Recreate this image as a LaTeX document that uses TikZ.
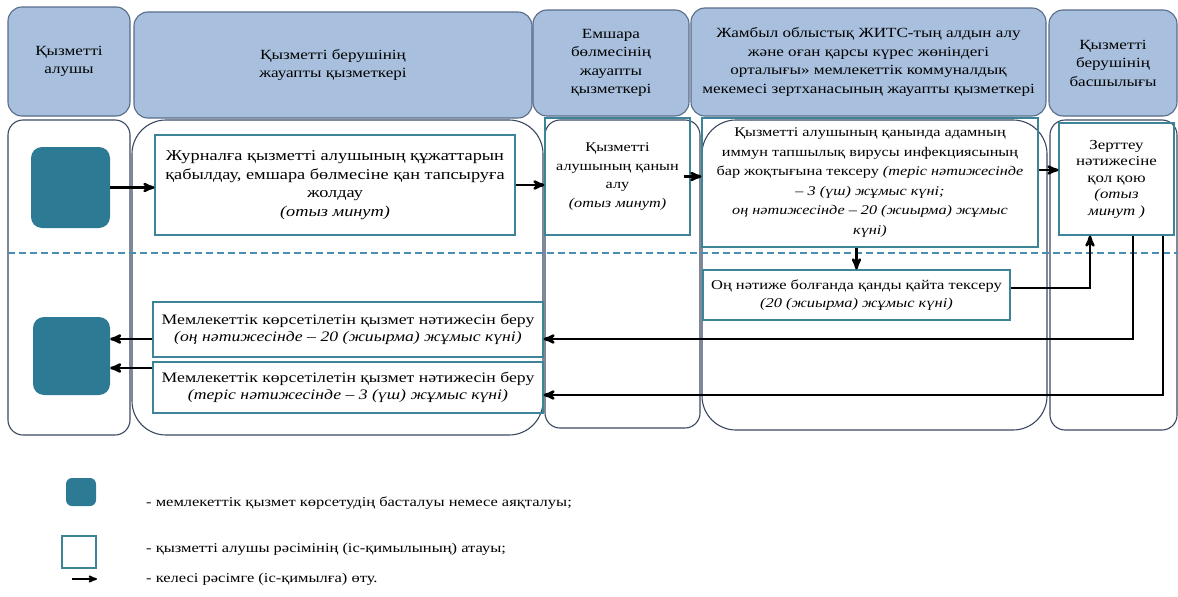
\documentclass[tikz,border=0pt]{standalone}
\usepackage{fontspec}
\setmainfont{Liberation Serif}[FakeStretch=1.22]
\usetikzlibrary{arrows,positioning}

\definecolor{hdrfill}{RGB}{168,192,222}
\definecolor{hdrline}{RGB}{88,108,138}
\definecolor{laneline}{RGB}{58,72,98}
\definecolor{procline}{RGB}{62,132,152}
\definecolor{termfill}{RGB}{44,122,148}
\definecolor{dashline}{RGB}{72,142,180}

\begin{document}
\begin{tikzpicture}[x=1pt,y=-1pt,>=stealth',
    every node/.style={font=\fontsize{15}{18.5}\selectfont,align=center,inner sep=0pt},
    hdr/.style={draw=hdrline,fill=hdrfill,rounded corners=14pt,line width=1.1pt,font=\fontsize{14}{18.5}\selectfont},
    lane/.style={draw=laneline,rounded corners=15pt,line width=1.1pt},
    proc/.style={draw=procline,line width=1.1pt},
    term/.style={fill=termfill,rounded corners=11pt}]
    \useasboundingbox (0,0) rectangle (1178,597);

    % headers
    \node[hdr,minimum width=122,minimum height=109] (H1) at (69,61.5) {Қызметті\\алушы};
    \node[hdr,minimum width=398,minimum height=106] (H2) at (333,65) {Қызметті берушінің\\жауапты қызметкері};
    \node[hdr,minimum width=156,minimum height=106] (H3) at (611,63) {Емшара\\бөлмесінің\\жауапты\\қызметкері};
    \node[hdr,minimum width=355,minimum height=108] (H4) at (868.5,62) {Жамбыл облыстық ЖИТС-тың алдын алу\\және оған қарсы күрес жөніндегі\\орталығы» мемлекеттік коммуналдық\\мекемесі зертханасының жауапты қызметкері};
    \node[hdr,minimum width=128,minimum height=106] (H5) at (1113,63) {Қызметті\\берушінің\\басшылығы};

    % lanes
    \node[lane,minimum width=122,minimum height=315] (L1) at (69,277.5) {};
    \node[lane,rounded corners=34pt,minimum width=411,minimum height=315] (L2) at (337.5,277.5) {};
    \node[lane,minimum width=155,minimum height=308] (L3) at (622.5,274) {};
    \node[lane,rounded corners=34pt,minimum width=345,minimum height=310] (L4) at (874.5,275) {};
    \node[lane,minimum width=127,minimum height=310] (L5) at (1113.5,275) {};
    \coordinate (D1) at (8,253);
    \coordinate (D2) at (1178,253);
    \draw[dashline,dash pattern=on 7pt off 4pt,line width=1.4pt] (D1) -- (D2);

    % steps
    \node[term,minimum width=79,minimum height=81] (S1) at (70.5,187.5) {};
    \node[term,minimum width=77,minimum height=78] (S2) at (71.5,356) {};
    \node[proc,minimum width=360,minimum height=100] (B1) at (335,185) {Журналға қызметті алушының құжаттарын\\қабылдау, емшара бөлмесіне қан тапсыруға\\жолдау\\\textit{(отыз минут)}};
    \node[proc,minimum width=145,minimum height=117,font=\fontsize{13.3}{18.5}\selectfont] (B2) at (617.5,176.5) {Қызметті\\алушының қанын\\алу\\\textit{(отыз минут)}};
    \node[proc,minimum width=336,minimum height=129,font=\fontsize{13.3}{19.5}\selectfont] (B3) at (870,182.5) {Қызметті алушының қанында адамның\\иммун тапшылық вирусы инфекциясының\\бар жоқтығына тексеру \textit{(теріс нәтижесінде}\\\textit{– 3 (үш) жұмыс күні;}\\\textit{оң нәтижесінде – 20 (жиырма) жұмыс}\\\textit{күні)}};
    \node[proc,minimum width=115,minimum height=112,font=\fontsize{13.8}{16.5}\selectfont] (B4) at (1116.5,179) {Зерттеу\\нәтижесіне\\қол қою\\\textit{(отыз}\\\textit{минут )}};
    \node[proc,minimum width=307,minimum height=50,font=\fontsize{13.5}{18.5}\selectfont] (B5) at (856.5,295) {Оң нәтиже болғанда қанды қайта тексеру\\\textit{(20 (жиырма) жұмыс күні)}};
    \node[proc,minimum width=390,minimum height=55,font=\fontsize{14.5}{17}\selectfont] (B6) at (348,329.5) {Мемлекеттік көрсетілетін қызмет нәтижесін беру\\\textit{(оң нәтижесінде – 20 (жиырма) жұмыс күні)}};
    \node[proc,minimum width=390,minimum height=51,font=\fontsize{14.5}{17}\selectfont] (B7) at (348,387.5) {Мемлекеттік көрсетілетін қызмет нәтижесін беру\\\textit{(теріс нәтижесінде – 3 (үш) жұмыс күні)}};

    \tikzset{flow/.style={->,line width=2.6pt}}
    \path (S1.east) edge [flow] (S1.east -| B1.west);
    \path (B1.east) edge [flow] (B1.east -| B2.west);
    \path ([xshift=-7pt]B2.east) edge [flow] (B3.west |- B2.east);
    \path ([yshift=9pt]B4.west -| B3.east) edge [flow] ([yshift=9pt]B4.west);
    \path (B5.north |- B3.south) edge [flow] (B5.north);
    \draw[flow] ([yshift=7pt]B5.east) -| ([xshift=-26.5pt]B4.south);
    \draw[flow] ([xshift=16.5pt]B4.south) |- ([yshift=-9.5pt]B6.east);
    \draw[flow] ([xshift=46.5pt]B4.south) |- ([yshift=-7.5pt]B7.east);
    \path ([yshift=-9.5pt]B6.west) edge [flow] ([yshift=-9.5pt]B6.west -| S2.east);
    \path ([yshift=19.5pt]B7.west) edge [flow] ([yshift=19.5pt]B7.west -| S2.east);

    % legend
    \tikzset{every node/.style={font=\fontsize{13.5}{16}\selectfont,inner sep=0pt}}
    \node[term,rounded corners=6pt,minimum width=30,minimum height=28] (G1) at (81,492) {};
    \node[proc,minimum width=34,minimum height=32] (G2) at (79,552) {};
    \coordinate (G3a) at (72,579);
    \coordinate (G3b) at (97,579);
    \draw[->,line width=1.8pt] (G3a) -- (G3b);
    \node[anchor=west] (T1) at (146,503) {- мемлекеттік қызмет көрсетудің басталуы немесе аяқталуы;};
    \node[anchor=west] (T2) at (146,549) {- қызметті алушы рәсімінің (іс-қимылының) атауы;};
    \node[anchor=west] (T3) at (146,579) {- келесі рәсімге (іс-қимылға) өту.};
\end{tikzpicture}
\end{document}
